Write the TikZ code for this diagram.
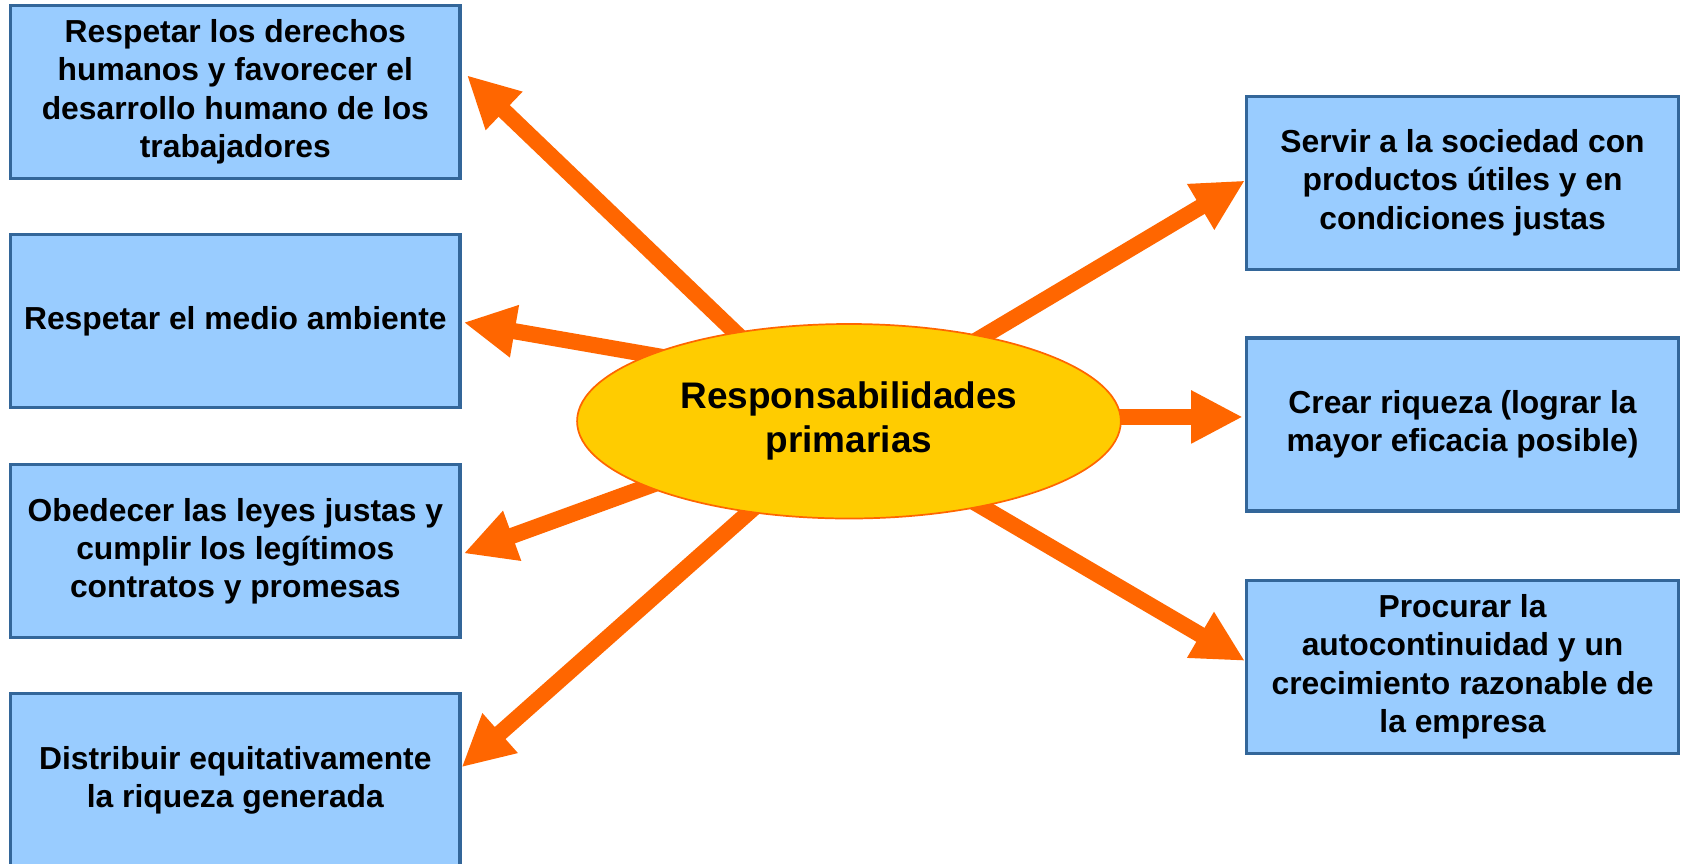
\documentclass[tikz,border=0pt]{standalone}
\usepackage{fontspec}
\setmainfont{Liberation Sans}
\usetikzlibrary{shapes.geometric,arrows.meta,calc}
\definecolor{boxfill}{HTML}{99CCFF}
\definecolor{boxline}{HTML}{336699}
\definecolor{ellfill}{HTML}{FFCC00}
\definecolor{orng}{HTML}{FF6600}
\tikzset{
  box/.style={draw=boxline, line width=1.5pt, fill=boxfill, minimum width=209pt, minimum height=80.5pt, inner sep=0pt, align=center, font=\fontsize{14.8pt}{17.8pt}\selectfont\bfseries},
  rbox/.style={box, minimum width=201pt},
  centre/.style={ellipse, draw=orng, line width=0.8pt, fill=ellfill, minimum width=253pt, minimum height=90.5pt, inner sep=0pt, align=center, font=\fontsize{17.2pt}{20.6pt}\selectfont\bfseries},
  bigarrow/.style={draw=orng, line width=7.5pt, -{Triangle[length=24pt,width=23pt]}, shorten >=0pt}
}
\begin{document}
\begin{tikzpicture}[x=0.5pt,y=-0.5pt]
\useasboundingbox (0,0) rectangle (1568,804);
\clip (0,0) rectangle (1568,804);
\fill[white] (0,0) rectangle (1568,804);
\node[box] (b1) at (219,85.5) {Respetar los derechos\\humanos y favorecer el\\desarrollo humano de los\\trabajadores};
\node[box] (b2) at (219,299) {Respetar el medio ambiente};
\node[box] (b3) at (219,513) {Obedecer las leyes justas y\\cumplir los legítimos\\contratos y promesas};
\node[box] (b4) at (219,726) {Distribuir equitativamente\\la riqueza generada};
\node[rbox] (b5) at (1361,170) {Servir a la sociedad con\\productos útiles y en\\condiciones justas};
\node[rbox] (b6) at (1361,395) {Crear riqueza (lograr la\\mayor eficacia posible)};
\node[rbox] (b7) at (1361,620.5) {Procurar la\\autocontinuidad y un\\crecimiento razonable de\\la empresa};
\coordinate (c) at (790,392);
\draw[bigarrow] ($(c)+(-78,-56)$) -- ($(b1.east)+(5,-15.5)$);
\draw[bigarrow] ($(c)+(-146,-55)$) -- ($(b2.east)+(2,1)$);
\draw[bigarrow] ($(c)+(-147,46)$) -- ($(b3.east)+(2,2)$);
\draw[bigarrow] ($(c)+(-63,58)$) -- ($(b4.east)+(0,-12)$);
\draw[bigarrow] ($(c)+(88,-57)$) -- ($(b5.west)+(0,-2)$);
\draw[bigarrow] ($(c)+(210,-4)$) -- ($(b6.west)+(-2,-7)$);
\draw[bigarrow] ($(c)+(87,58)$) -- ($(b7.west)+(0,-5.5)$);
\node[centre] (e) at (c) {Responsabilidades\\primarias};
\end{tikzpicture}
\end{document}
